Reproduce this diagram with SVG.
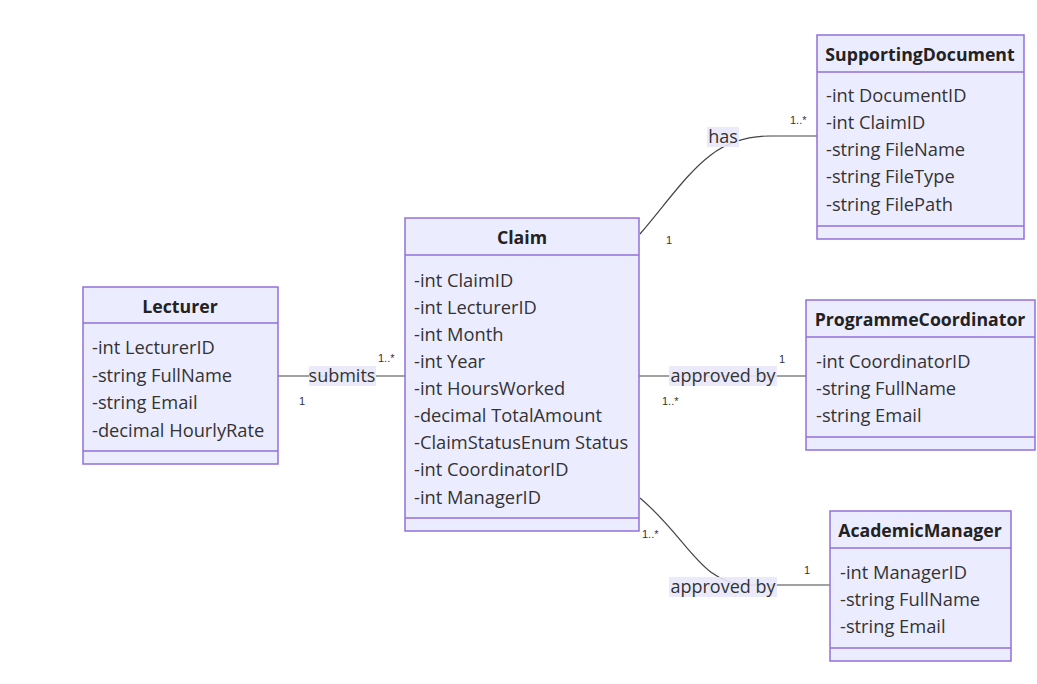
<svg xmlns="http://www.w3.org/2000/svg" width="1037" height="684" viewBox="0 0 1037 684">
<style>
.box{fill:#ECECFF;stroke:#9370DB;stroke-width:1.5}
.div{stroke:#9370DB;stroke-width:1.5}
.title{font-family:"Open Sans","Liberation Sans",sans-serif;font-size:17.7px;font-weight:bold;fill:#222;text-anchor:middle}
.attr{font-family:"Open Sans","Liberation Sans",sans-serif;font-size:18.3px;fill:#333}
.edge{fill:none;stroke:#444;stroke-width:1.2}
.lbl{font-family:"Open Sans","Liberation Sans",sans-serif;font-size:18px;fill:#333;text-anchor:middle}
.lblbg{fill:#E8E8FA;opacity:0.9}
.card{font-family:"Liberation Sans",sans-serif;font-size:11px;fill:#333}
</style>
<rect width="1037" height="684" fill="#fff"/>
<g id="connectors">
<path class="edge" d="M278,376 L405,376"/>
<rect class="lblbg" x="309" y="366" width="67" height="20"/>
<text class="lbl" x="342" y="382">submits</text>
<text class="card" x="299" y="405">1</text>
<text class="card" x="378" y="362">1..*</text>

<path class="edge" d="M640,234 C690,175 710,136 770,136 L817,136"/>
<rect class="lblbg" x="707" y="127" width="32" height="20"/>
<text class="lbl" x="723" y="143">has</text>
<text class="card" x="666" y="244">1</text>
<text class="card" x="790" y="124">1..*</text>

<path class="edge" d="M639,376 L806,376"/>
<rect class="lblbg" x="669" y="366" width="108" height="20"/>
<text class="lbl" x="723" y="382">approved by</text>
<text class="card" x="779" y="363">1</text>
<text class="card" x="662" y="405">1..*</text>

<path class="edge" d="M640,498 C690,540 700,585 750,585 L830,585"/>
<rect class="lblbg" x="669" y="577" width="108" height="20"/>
<text class="lbl" x="723" y="593">approved by</text>
<text class="card" x="642" y="538">1..*</text>
<text class="card" x="804" y="574">1</text>
</g>
<g id="Lecturer">
<rect class="box" x="83" y="287" width="195" height="177"/>
<line class="div" x1="83" y1="323" x2="278" y2="323"/>
<line class="div" x1="83" y1="451" x2="278" y2="451"/>
<text class="title" x="180" y="313">Lecturer</text>
<text class="attr" x="92" y="354">-int LecturerID</text>
<text class="attr" x="92" y="382">-string FullName</text>
<text class="attr" x="92" y="409">-string Email</text>
<text class="attr" x="92" y="437">-decimal HourlyRate</text>
</g>
<g id="Claim">
<rect class="box" x="405" y="218" width="234" height="313"/>
<line class="div" x1="405" y1="255" x2="639" y2="255"/>
<line class="div" x1="405" y1="518" x2="639" y2="518"/>
<text class="title" x="522" y="244">Claim</text>
<text class="attr" x="414" y="287">-int ClaimID</text>
<text class="attr" x="414" y="314">-int LecturerID</text>
<text class="attr" x="414" y="341">-int Month</text>
<text class="attr" x="414" y="368">-int Year</text>
<text class="attr" x="414" y="395">-int HoursWorked</text>
<text class="attr" x="414" y="422">-decimal TotalAmount</text>
<text class="attr" x="414" y="449">-ClaimStatusEnum Status</text>
<text class="attr" x="414" y="476">-int CoordinatorID</text>
<text class="attr" x="414" y="504">-int ManagerID</text>
</g>
<g id="SupportingDocument">
<rect class="box" x="817" y="35" width="207" height="204"/>
<line class="div" x1="817" y1="72" x2="1024" y2="72"/>
<line class="div" x1="817" y1="226" x2="1024" y2="226"/>
<text class="title" x="920" y="61">SupportingDocument</text>
<text class="attr" x="826" y="102">-int DocumentID</text>
<text class="attr" x="826" y="129">-int ClaimID</text>
<text class="attr" x="826" y="156">-string FileName</text>
<text class="attr" x="826" y="183">-string FileType</text>
<text class="attr" x="826" y="211">-string FilePath</text>
</g>
<g id="ProgrammeCoordinator">
<rect class="box" x="806" y="300" width="229" height="150"/>
<line class="div" x1="806" y1="337" x2="1035" y2="337"/>
<line class="div" x1="806" y1="437" x2="1035" y2="437"/>
<text class="title" x="920" y="326">ProgrammeCoordinator</text>
<text class="attr" x="816" y="368">-int CoordinatorID</text>
<text class="attr" x="816" y="395">-string FullName</text>
<text class="attr" x="816" y="422">-string Email</text>
</g>
<g id="AcademicManager">
<rect class="box" x="830" y="511" width="181" height="150"/>
<line class="div" x1="830" y1="548" x2="1011" y2="548"/>
<line class="div" x1="830" y1="648" x2="1011" y2="648"/>
<text class="title" x="920" y="537">AcademicManager</text>
<text class="attr" x="840" y="579">-int ManagerID</text>
<text class="attr" x="840" y="606">-string FullName</text>
<text class="attr" x="840" y="633">-string Email</text>
</g>
</svg>
